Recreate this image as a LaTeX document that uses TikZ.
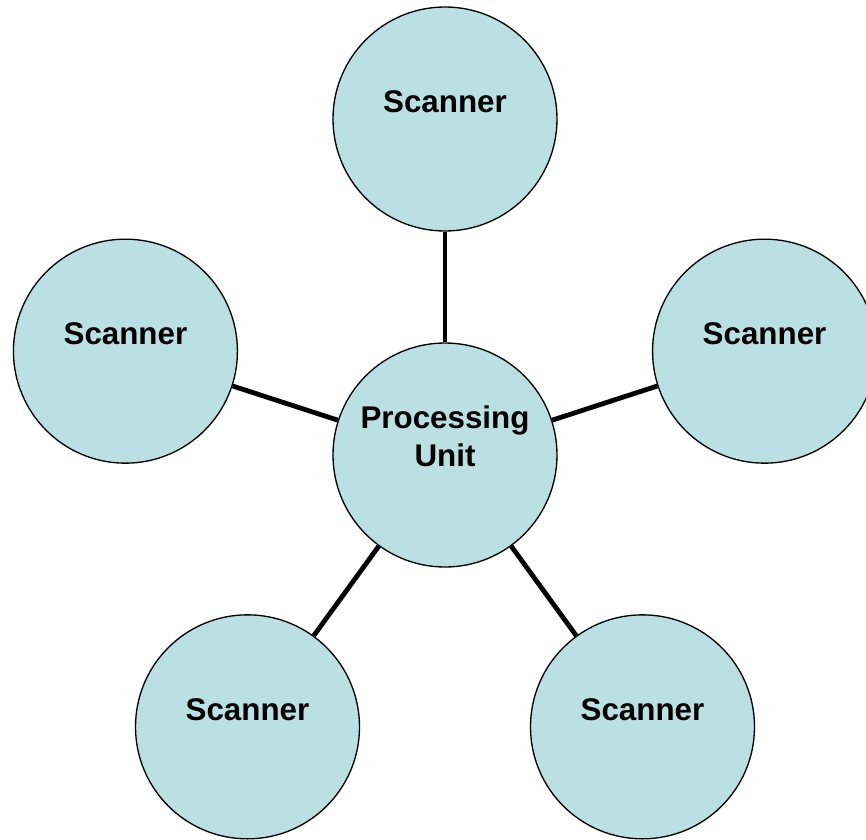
\documentclass[tikz,border=0pt]{standalone}
\usepackage{fontspec}
\setmainfont{Liberation Sans}
\usepackage{tikz}
\definecolor{discblue}{HTML}{BBE0E3}

\begin{document}
\begin{tikzpicture}[x=0.75pt, y=0.75pt,
    disc/.style={circle, draw, line width=1pt, fill=discblue, minimum size=168pt, inner sep=0pt},
    tag/.style={font=\fontsize{23.5}{29}\selectfont\bfseries, align=center},
    spoke/.style={line width=3.6pt}]
    \useasboundingbox (-445,-384) rectangle (421,455);

    % Processing unit
    \node[disc, label={[tag, yshift=14pt]center:Processing\\Unit}] (pu) at (0,0) {};

    % Scanners
    \node[disc, label={[tag, yshift=13pt]center:Scanner}] (sc1) at (90:336) {};
    \node[disc, label={[tag, yshift=13pt]center:Scanner}] (sc2) at (162:336) {};
    \node[disc, label={[tag, yshift=13pt]center:Scanner}] (sc3) at (18:336) {};
    \node[disc, label={[tag, yshift=13pt]center:Scanner}] (sc4) at (234:336) {};
    \node[disc, label={[tag, yshift=13pt]center:Scanner}] (sc5) at (306:336) {};

    % Links
    \foreach \s in {sc1, sc2, sc3, sc4, sc5}
        \draw[spoke] (pu) -- (\s);
\end{tikzpicture}
\end{document}
